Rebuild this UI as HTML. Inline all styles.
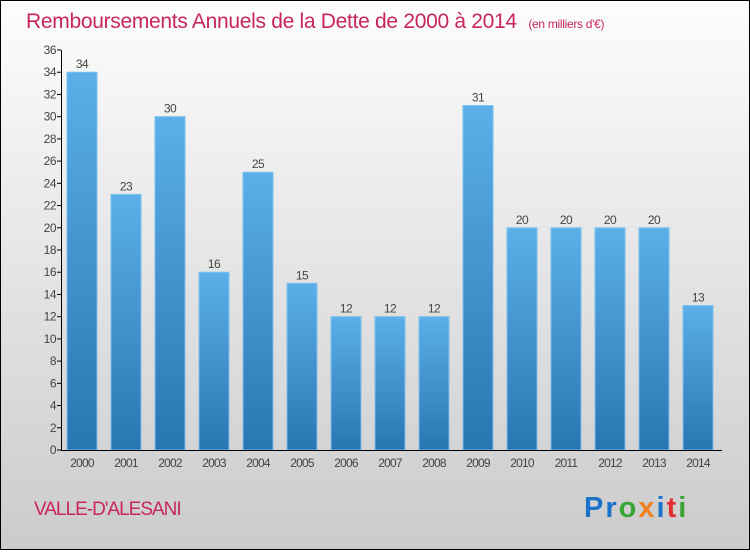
<!DOCTYPE html>
<html><head><meta charset="utf-8"><style>
body{margin:0}
#c{width:750px;height:550px;position:relative;font-family:"Liberation Sans",sans-serif}
</style></head><body>
<div id="c">
<svg width="750" height="550" xmlns="http://www.w3.org/2000/svg">
<defs>
<linearGradient id="bg" x1="0" y1="0" x2="0" y2="1"><stop offset="0" stop-color="#fdfdfd"/><stop offset="1" stop-color="#cbcbcb"/></linearGradient>
<linearGradient id="bar" x1="0" y1="0" x2="0" y2="1"><stop offset="0" stop-color="#5cafe8"/><stop offset="1" stop-color="#2876b2"/></linearGradient>
</defs>
<rect x="0.5" y="0.5" width="749" height="549" fill="url(#bg)" stroke="#000"/>
<text x="26" y="28" font-size="21" fill="#c8265a" letter-spacing="-0.3">Remboursements Annuels de la Dette de 2000 à 2014 <tspan font-size="12" dx="6">(en milliers d'€)</tspan></text>
<g id="yaxis"></g>
<g id="bars"></g>
<g id="xaxis"></g>
<text x="34" y="515" font-size="19" fill="#c8265a" letter-spacing="-1">VALLE-D'ALESANI</text>
<g font-size="29" font-weight="bold">
<text x="584" y="517" letter-spacing="2"><tspan fill="#1a73c8">Pr</tspan><tspan fill="#3aa535">o</tspan><tspan fill="#f08020">x</tspan><tspan fill="#1a73c8">i</tspan><tspan fill="#e03030">t</tspan><tspan fill="#3aa535">i</tspan></text>
</g>
</svg>
</div>
<script>
const categories=["2000","2001","2002","2003","2004","2005","2006","2007","2008","2009","2010","2011","2012","2013","2014"];
const values=[34,23,30,16,25,15,12,12,12,31,20,20,20,20,13];
const yTicks=[0,2,4,6,8,10,12,14,16,18,20,22,24,26,28,30,32,34,36];
const NS="http://www.w3.org/2000/svg";
const y0=450,yTop=50,yMax=36,x0=61,x1=722,step=44,bw=30,firstX=67;
function yS(v){return y0-(v/yMax)*(y0-yTop);}
function xS(i){return firstX+i*step;}
function mk(t,a,p){const e=document.createElementNS(NS,t);for(const k in a)e.setAttribute(k,a[k]);p.appendChild(e);return e;}
const ya=document.getElementById('yaxis'),ba=document.getElementById('bars'),xa=document.getElementById('xaxis');
yTicks.forEach(v=>{
  const l=mk('line',{x1:57,x2:61,y1:yS(v),y2:yS(v),stroke:'#000'},ya);
  
  
  const t=mk('text',{x:56,y:yS(v)+4,'text-anchor':'end','font-size':12,fill:'#444','letter-spacing':'-0.5'},ya);
  t.textContent=v;
  
  
});
const axl=mk('line',{x1:61.5,x2:61.5,y1:50,y2:450,stroke:'#000'},ya);


values.forEach((v,i)=>{
  const r=mk('rect',{x:xS(i),y:yS(v),width:bw,height:y0-yS(v),fill:'url(#bar)',stroke:'#7cc0ee','stroke-width':1},ba);
  
  
  const t=mk('text',{x:xS(i)+bw/2,y:yS(v)-4,'text-anchor':'middle','font-size':12,fill:'#444','letter-spacing':'-0.5'},ba);
  t.textContent=v;
  
  
  const c=mk('text',{x:xS(i)+bw/2,y:467,'text-anchor':'middle','font-size':12,fill:'#444','letter-spacing':'-0.8'},xa);
  c.textContent=categories[i];
  
  
});
const xl=mk('line',{x1:61,x2:x1,y1:450.5,y2:450.5,stroke:'#000'},xa);


</script>
</body></html>
